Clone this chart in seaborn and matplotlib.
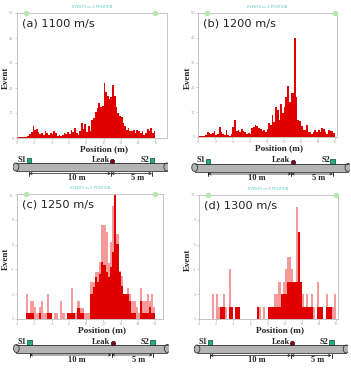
import numpy as np
import pandas as pd
import matplotlib.pyplot as plt
import seaborn as sns
from matplotlib.patches import Rectangle, Ellipse

sns.set_style('white')
plt.rcParams['font.family'] = ['DejaVu Sans']

panel_labels = ['(a) 1100 m/s', '(b) 1200 m/s', '(c) 1250 m/s', '(d) 1300 m/s']
top_title = 'EVENTS vs X POSITION'

# (a) and (b): 0.2 m bins from 0 to 16 m
a_solid = [0.4, 0.4, 0.4, 0.4, 0.4, 0.4, 1.0, 1.8, 2.6, 4.8,
           3.2, 3.6, 2.4, 1.6, 2.2, 1.4, 2.8, 2.0, 1.2, 2.0,
           1.6, 3.0, 2.2, 1.0, 1.4, 0.8, 1.2, 2.2, 1.6, 2.6,
           1.8, 3.4, 2.4, 4.2, 2.0, 1.2, 3.0, 6.0, 3.5, 5.6,
           2.6, 4.8, 2.8, 7.2, 8.2, 10.5, 12.0, 13.8, 12.6, 13.0,
           22.0, 18.6, 17.0, 15.4, 16.2, 21.4, 16.8, 12.5, 10.2, 9.0,
           8.4, 6.0, 4.6, 3.2, 4.2, 3.0, 2.6, 3.2, 2.0, 3.4,
           2.6, 1.8, 3.0, 1.4, 2.0, 3.6, 2.8, 4.0, 2.2, 3.0]
b_solid = [0.3, 0.3, 0.3, 0.3, 1.0, 2.0, 1.8, 1.2, 1.6, 2.4,
           0.8, 1.2, 4.0, 2.2, 1.4, 1.0, 3.0, 1.0, 0.6, 1.2,
           4.2, 7.0, 2.6, 3.0, 2.2, 3.2, 2.4, 2.0, 1.4, 1.8,
           1.2, 3.6, 4.0, 4.8, 4.4, 3.6, 3.2, 2.4, 2.8, 2.2,
           3.4, 5.8, 5.0, 8.8, 6.0, 11.9, 10.8, 6.8, 13.2, 9.5,
           12.0, 16.2, 20.5, 14.2, 17.8, 17.6, 40.0, 16.0, 7.0, 6.5,
           4.4, 2.7, 3.0, 4.7, 2.2, 2.0, 1.4, 2.0, 2.7, 2.0,
           3.0, 2.2, 3.8, 3.2, 2.0, 1.4, 3.0, 2.4, 2.4, 1.6]

# (c) and (d): 0.25 m bins from 0 to 16 m, light = outline histogram, solid = filled
c_light = [0, 0, 0, 0, 2.0, 0.5, 1.45, 1.45, 1.0, 0.5,
           1.0, 1.45, 0.5, 0.5, 2.0, 0.5, 0, 0.5, 0.5, 0,
           1.45, 0.5, 0, 0.5, 0.5, 2.5, 0.5, 0.5, 1.45, 0.9,
           0.9, 0.5, 0.5, 0.5, 3.0, 3.0, 3.8, 3.8, 4.6, 7.6,
           7.6, 7.0, 4.5, 6.2, 9.1, 10.0, 6.9, 3.9, 3.5, 2.0,
           2.0, 2.5, 2.0, 1.45, 1.45, 1.0, 0.5, 2.5, 1.45, 1.45,
           2.0, 1.45, 2.0, 1.0]
c_solid = [0, 0, 0, 0, 0.5, 0.5, 0.5, 0.5, 0, 0,
           0.5, 0, 0, 0, 0.5, 0.5, 0, 0, 0, 0,
           0, 0, 0, 0.5, 0.5, 0.5, 0.5, 0, 0.9, 0.5,
           0.5, 0, 0, 0, 2.0, 2.6, 3.4, 3.0, 3.6, 4.6,
           4.4, 3.8, 3.4, 4.2, 5.4, 10.0, 6.1, 3.8, 2.7, 2.0,
           2.0, 2.0, 1.45, 0.5, 0.5, 0, 0, 1.45, 0.5, 0.5,
           0.5, 1.0, 0.5, 0.5]
d_light = [0, 0, 0, 0, 0, 0, 2, 0, 2, 1,
           1, 2, 1, 0, 4, 1, 0, 1, 1, 0,
           0, 0, 0, 0, 0, 0, 0, 1, 1, 0,
           1, 0, 1, 1, 1, 2, 2, 3, 2, 3,
           4, 5, 5, 4, 3, 9, 7, 2, 2, 1,
           2, 1, 2, 1, 0, 3, 1, 1, 0, 2,
           1, 1, 1, 2]
d_solid = [0, 0, 0, 0, 0, 0, 0, 0, 0, 0,
           1, 1, 0, 0, 1, 1, 0, 1, 1, 0,
           0, 0, 0, 0, 0, 0, 0, 1, 0, 0,
           0, 0, 1, 1, 1, 1, 1, 1, 2, 2,
           2, 3, 3, 3, 3, 3, 7, 3, 1, 1,
           1, 1, 1, 0, 0, 1, 1, 1, 0, 1,
           1, 1, 0, 0]

sensor_marks = [1.0, 16.0]
sensor_pos = [0, 15]
sensor_names = ['S1', 'S2']
leak_pos = 10
span_labels = ['10 m', '5 m']

SOLID = '#e00000'
LIGHT = '#f39a9a'
serif = ['Liberation Serif', 'DejaVu Serif']

W, H = 351, 373
fig = plt.figure(figsize=(W / 100, H / 100), dpi=100)


def px_axes(x0, y0, x1, y1):
    return fig.add_axes([x0 / W, 1 - y1 / H, (x1 - x0) / W, (y1 - y0) / H])


def hist(ax, values, width, color):
    edges = np.arange(len(values) + 1) * width
    df = pd.DataFrame({'pos': edges[:-1] + width / 2, 'n': values})
    sns.histplot(data=df, x='pos', weights='n', bins=list(edges), color=color,
                 alpha=1, linewidth=0, element='bars', ax=ax)


def style_panel(ax, label, xmax, ymax, ystep):
    ax.set_xlim(0, xmax)
    ax.set_ylim(0, ymax)
    ax.set_xticks(np.arange(0, 17, 2))
    ax.set_yticks(np.arange(0, ymax + 0.01, ystep))
    ax.tick_params(length=1.5, width=0.4, color='#aaaaaa', labelsize=2.5,
                   labelcolor='#aaaaaa', pad=1, bottom=True, left=True)
    for s in ax.spines.values():
        s.set_color('#bbbbbb')
        s.set_linewidth(0.6)
    ax.set_xlabel('Position (m)', family=serif, weight='bold', fontsize=6.7)
    ax.set_ylabel('Event', family=serif, weight='bold', fontsize=6.5)
    ax.xaxis.set_label_coords(0.58, -0.06)
    ax.yaxis.set_label_coords(-0.05, 0.48)
    ax.text(0.035, 0.955, label, transform=ax.transAxes, va='top', ha='left',
            fontsize=8.2, color='#222222')
    ax.text(0.5, 1.035, top_title, transform=ax.transAxes, ha='center',
            va='bottom', fontsize=2.5, color='#5cc8bb')
    ax.plot(sensor_marks, [ymax, ymax], 'o', ms=3, color='#b8e6b0',
            clip_on=False, zorder=5)


def pipe(s1_px, ppm, yc):
    right = min(s1_px + 17 * ppm, W)
    ax = px_axes(s1_px - 2 * ppm, yc - 13, right, yc + 14)
    ax.set_xlim(-2, (right - s1_px) / ppm)
    ax.set_ylim(-14, 13)
    ax.axis('off')
    x0, x1 = -1.6, 16.8
    ax.add_patch(Rectangle((x0, -4), x1 - x0, 8, fc='#b4b4b4', ec='none'))
    ax.plot([x0, x1], [4, 4], color='#333333', lw=0.6)
    ax.plot([x0, x1], [-4, -4], color='#333333', lw=0.6)
    ax.add_patch(Ellipse((x0, 0), 0.7, 8, fc='#b4b4b4', ec='#333333', lw=0.6))
    ax.add_patch(Ellipse((x1, 0), 0.7, 8, fc='#b4b4b4', ec='#333333', lw=0.6))
    for s, name in zip(sensor_pos, sensor_names):
        ax.add_patch(Rectangle((s - 0.3, 4), 0.6, 5, fc='#1fae80',
                               ec='#104030', lw=0.5))
        ax.text(s - 0.35, 7, name, ha='right', va='center', family=serif,
                weight='bold', fontsize=6)
    ax.plot([leak_pos + 0.15], [6], 'o', ms=3.2, color='#8a0018', mec='#111111',
            mew=0.4)
    ax.text(leak_pos - 0.15, 7, 'Leak', ha='right', va='center', family=serif,
            weight='bold', fontsize=6)
    segs = [(sensor_pos[0], leak_pos), (leak_pos, sensor_pos[1])]
    for (a, b), txt in zip(segs, span_labels):
        ax.annotate('', xy=(b, -6.5), xytext=(a, -6.5),
                    arrowprops=dict(arrowstyle='<->', lw=0.5, color='#111111',
                                    shrinkA=0, shrinkB=0, mutation_scale=4))
        ax.text((a + b) / 2 + 0.8, -11, txt, ha='center', va='center',
                family=serif, weight='bold', fontsize=6)
    for x in [sensor_pos[0], leak_pos, sensor_pos[1]]:
        ax.plot([x, x], [-4.5, -8.5], color='#111111', lw=0.6)


# (a)
ax = px_axes(17, 13, 166.7, 138)
hist(ax, a_solid, 0.2, SOLID)
style_panel(ax, panel_labels[0], 17.3, 50, 10)
pipe(29, 8.2, 167)

# (b)
ax = px_axes(198.3, 13, 336.7, 137)
hist(ax, b_solid, 0.2, SOLID)
style_panel(ax, panel_labels[1], 16.2, 50, 10)
pipe(208, 8.33, 167.5)

# (c)
ax = px_axes(17, 194, 163, 319)
hist(ax, c_light, 0.25, LIGHT)
hist(ax, c_solid, 0.25, SOLID)
style_panel(ax, panel_labels[2], 16.9, 10.1, 2)
pipe(29.5, 8.2, 348.5)

# (d)
ax = px_axes(199, 195, 338, 319)
hist(ax, d_light, 0.25, LIGHT)
hist(ax, d_solid, 0.25, SOLID)
style_panel(ax, panel_labels[3], 16.2, 10, 2)
pipe(210, 8.1, 349)

fig.savefig('out.png', dpi=100)
